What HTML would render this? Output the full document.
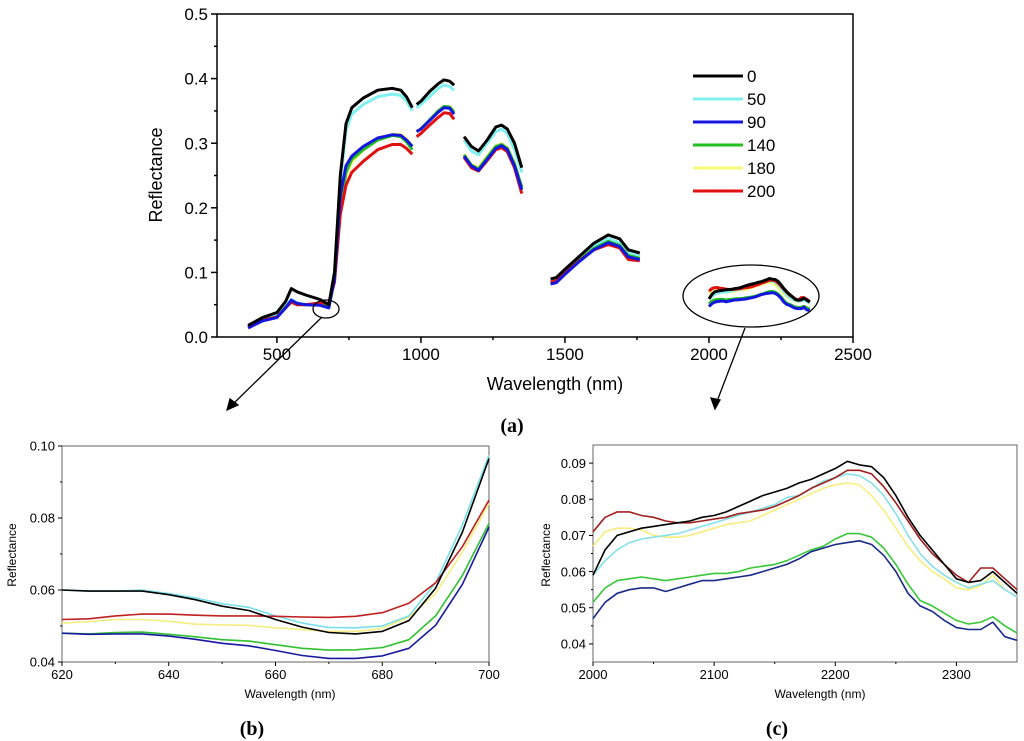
<!DOCTYPE html>
<html><head><meta charset="utf-8"><style>
body{margin:0;background:#fff;}
svg{display:block;font-family:"Liberation Sans",Arial,sans-serif;}
</style></head><body>
<svg id="fig" width="1024" height="741">
<g id="main"></g>
<g id="pb"></g>
<g id="pc"></g>
<g fill="none" stroke="#000" stroke-width="1.3">
<ellipse cx="326" cy="309" rx="13" ry="9"/>
<ellipse cx="751" cy="296" rx="68" ry="31"/>
<line x1="322" y1="317" x2="231" y2="406"/>
<line x1="745" y1="328" x2="716" y2="404"/>
<polygon fill="#000" points="227,410 230,399 238,405"/>
<polygon fill="#000" points="715,409 711,398 720,400"/>
</g>
<text x="512" y="432" font-family="Liberation Serif" font-weight="bold" font-size="20" text-anchor="middle">(a)</text>
<text x="252" y="735" font-family="Liberation Serif" font-weight="bold" font-size="20" text-anchor="middle">(b)</text>
<text x="777" y="735" font-family="Liberation Serif" font-weight="bold" font-size="20" text-anchor="middle">(c)</text>
</svg>
<script>
// ---- main chart data ----
const seriesNames = ["0","50","90","140","180","200"];
const seg1X = [400,450,500,530,550,570,600,650,680,700,720,740,760,800,850,900,930,950,970];
const seg1Black = [.018,.03,.038,.055,.075,.07,.065,.058,.05,.1,.25,.33,.355,.37,.382,.385,.382,.372,.355];
const seg1Cyan = [.016,.028,.034,.048,.058,.053,.05,.05,.048,.1,.24,.32,.345,.36,.372,.376,.374,.365,.35];
const seg1Blue = [.014,.025,.03,.045,.057,.052,.05,.049,.045,.09,.22,.265,.28,.295,.308,.313,.312,.305,.295];
const seg1Green = [.015,.026,.031,.046,.055,.051,.05,.05,.047,.09,.2,.255,.275,.29,.305,.312,.31,.302,.29];
const seg1Yellow = [.016,.027,.032,.047,.054,.05,.05,.052,.049,.09,.2,.25,.27,.29,.305,.314,.314,.307,.295];
const seg1Red = [.015,.026,.031,.045,.054,.05,.05,.053,.052,.085,.19,.235,.255,.272,.29,.298,.298,.292,.283];
const seg2X = [985,1000,1030,1060,1080,1100,1115];
const seg2Black = [.36,.365,.38,.392,.398,.396,.39];
const seg2Cyan = [.355,.36,.372,.385,.39,.388,.382];
const seg2Blue = [.318,.322,.335,.348,.355,.354,.345];
const seg2Green = [.318,.322,.336,.35,.357,.356,.348];
const seg2Yellow = [.318,.322,.336,.35,.357,.356,.35];
const seg2Red = [.31,.315,.328,.34,.347,.346,.337];
const seg3X = [1150,1175,1200,1230,1260,1280,1300,1325,1350];
const seg3Black = [.31,.295,.288,.305,.325,.328,.322,.3,.262];
const seg3Cyan = [.305,.288,.282,.3,.318,.322,.315,.29,.255];
const seg3Blue = [.28,.265,.258,.275,.292,.296,.29,.265,.228];
const seg3Green = [.282,.266,.26,.278,.295,.298,.292,.268,.232];
const seg3Yellow = [.283,.267,.262,.28,.296,.299,.293,.27,.232];
const seg3Red = [.278,.262,.257,.273,.29,.293,.287,.262,.222];
const seg4X = [1450,1470,1500,1550,1600,1650,1690,1720,1760];
const seg4Black = [.09,.092,.105,.125,.145,.158,.152,.135,.13];
const seg4Cyan = [.088,.09,.102,.122,.14,.152,.146,.13,.125];
const seg4Blue = [.082,.084,.097,.117,.135,.146,.14,.124,.12];
const seg4Green = [.084,.086,.099,.119,.137,.148,.142,.126,.122];
const seg4Yellow = [.09,.09,.1,.12,.138,.149,.143,.126,.122];
const seg4Red = [.085,.087,.099,.118,.135,.143,.138,.12,.118];
// ---- panel c data (also seg5 of main) ----
const cX = [2000,2010,2020,2030,2040,2050,2060,2070,2080,2090,2100,2110,2120,2130,2140,2150,2160,2170,2180,2190,2200,2210,2220,2230,2240,2250,2260,2270,2280,2290,2300,2310,2320,2330,2340,2350];
const cBlack = [.059,.066,.07,.071,.072,.0725,.073,.0735,.074,.075,.0755,.0765,.078,.0795,.081,.082,.083,.0845,.0855,.087,.0885,.0905,.0895,.089,.086,.081,.075,.07,.066,.062,.058,.057,.0575,.06,.057,.054];
const cRed = [.071,.075,.0765,.0765,.0755,.075,.074,.0735,.0735,.074,.0745,.075,.076,.0765,.077,.078,.0795,.081,.083,.0845,.086,.088,.088,.087,.0835,.079,.074,.069,.065,.062,.059,.057,.061,.061,.058,.055];
const cCyan = [.059,.063,.066,.068,.069,.0695,.07,.0705,.0715,.0725,.0735,.0745,.0755,.0765,.0775,.0785,.0805,.081,.083,.085,.086,.087,.0865,.0845,.081,.076,.07,.065,.0615,.059,.057,.0555,.0565,.0575,.055,.053];
const cYellow = [.067,.071,.072,.072,.0715,.07,.0695,.0695,.07,.071,.072,.073,.0735,.074,.0755,.077,.0785,.08,.0815,.083,.084,.0845,.084,.081,.077,.072,.067,.063,.06,.058,.0555,.055,.056,.059,.055,.053];
const cGreen = [.0515,.0555,.0575,.058,.0585,.058,.0575,.058,.0585,.059,.0595,.0595,.06,.061,.0615,.062,.063,.0645,.066,.067,.069,.0705,.0705,.0695,.0665,.062,.0565,.052,.0505,.0485,.0465,.0455,.046,.0475,.045,.043];
const cBlue = [.047,.0515,.054,.055,.0555,.0555,.0545,.0555,.0565,.0575,.0575,.058,.0585,.059,.06,.061,.062,.0635,.0655,.0665,.0675,.068,.0685,.0675,.0645,.06,.054,.0505,.049,.0465,.0445,.044,.044,.046,.042,.041];
// ---- panel b data ----
const bX = [620,625,630,635,640,645,650,655,660,665,670,675,680,685,690,695,700];
const bBlack = [.060,.0597,.0597,.0597,.0587,.0573,.0555,.0543,.0518,.0497,.0482,.0478,.0485,.0515,.0605,.076,.0965];
const bCyan = [.060,.0597,.0597,.06,.059,.0578,.0562,.0552,.0528,.0508,.0496,.0495,.05,.0528,.062,.078,.0975];
const bRed = [.0518,.052,.0528,.0533,.0533,.053,.0528,.0528,.0527,.0525,.0524,.0527,.0537,.0563,.062,.072,.085];
const bYellow = [.0508,.0512,.0518,.0518,.0513,.0505,.0503,.0502,.0495,.049,.0485,.0485,.0493,.0525,.059,.0705,.084];
const bGreen = [.048,.0478,.0482,.0483,.0477,.047,.0462,.0458,.0448,.0438,.0433,.0434,.044,.0462,.0528,.064,.0785];
const bBlue = [.048,.0477,.0478,.0478,.0472,.0463,.0452,.0445,.0432,.0418,.041,.041,.0417,.0438,.0502,.0615,.0775];
const mainXTicks = [500,1000,1500,2000,2500];
const mainYTicks = [0,0.1,0.2,0.3,0.4,0.5];
const bXTicks = [620,640,660,680,700];
const bYTicks = [0.04,0.06,0.08,0.10];
const cXTicks = [2000,2100,2200,2300];
const cYTicks = [0.04,0.05,0.06,0.07,0.08,0.09];

const NS="http://www.w3.org/2000/svg";
function mk(parent,tag,attrs,text){const e=document.createElementNS(NS,tag);for(const k in attrs)e.setAttribute(k,attrs[k]);if(text!==undefined)e.textContent=text;parent.appendChild(e);return e;}
function scale(d0,d1,r0,r1){return v=>r0+(v-d0)*(r1-r0)/(d1-d0);}

function axes(g,o){
  const X=scale(o.xmin,o.xmax,o.L,o.R),Y=scale(o.ymin,o.ymax,o.B,o.T);
  const box=mk(g,'rect',{x:o.L,y:o.T,width:o.R-o.L,height:o.B-o.T,fill:'none',stroke:o.frame,'stroke-width':o.sw});
  
  
  o.xt.forEach(v=>{
    const t=mk(g,'line',{x1:X(v),x2:X(v),y1:o.B,y2:o.B+o.tick,stroke:'#000','stroke-width':o.sw});
    
    
    const l=mk(g,'text',{x:X(v),y:o.B+o.tick+o.fs,'font-size':o.fs,'text-anchor':'middle'},String(v));
    
    
  });
  o.xt.slice(0,-1).forEach((v,i)=>{const m=(v+o.xt[i+1])/2;if(m<o.xmax)mk(g,'line',{x1:X(m),x2:X(m),y1:o.B,y2:o.B+o.tick/2,stroke:'#000','stroke-width':o.sw});});
  if(o.xmin<o.xt[0]-(o.xt[1]-o.xt[0])/2)mk(g,'line',{x1:X(o.xt[0]-(o.xt[1]-o.xt[0])/2),x2:X(o.xt[0]-(o.xt[1]-o.xt[0])/2),y1:o.B,y2:o.B+o.tick/2,stroke:'#000'});
  const lastM=o.xt[o.xt.length-1]+(o.xt[1]-o.xt[0])/2; if(lastM<o.xmax)mk(g,'line',{x1:X(lastM),x2:X(lastM),y1:o.B,y2:o.B+o.tick/2,stroke:'#000'});
  o.yt.forEach((v,i)=>{
    const t=mk(g,'line',{x1:o.L-o.tick,x2:o.L,y1:Y(v),y2:Y(v),stroke:'#000','stroke-width':o.sw});
    
    
    const l=mk(g,'text',{x:o.L-o.tick-3,y:Y(v)+o.fs*0.36,'font-size':o.fs,'text-anchor':'end'},v.toFixed(o.dec));
    
    
    if(i<o.yt.length-1){const m=(v+o.yt[i+1])/2;mk(g,'line',{x1:o.L-o.tick/2,x2:o.L,y1:Y(m),y2:Y(m),stroke:'#000','stroke-width':o.sw});}
  });
  const yl=o.yt[o.yt.length-1]+(o.yt[1]-o.yt[0])/2; if(yl<o.ymax)mk(g,'line',{x1:o.L-o.tick/2,x2:o.L,y1:Y(yl),y2:Y(yl),stroke:'#000'});
  const yl0=o.yt[0]-(o.yt[1]-o.yt[0])/2; if(yl0>o.ymin)mk(g,'line',{x1:o.L-o.tick/2,x2:o.L,y1:Y(yl0),y2:Y(yl0),stroke:'#000'});
  const xt=mk(g,'text',{x:o.xlx,y:o.xly,'font-size':o.lfs,'text-anchor':'middle'},'Wavelength (nm)');
  
  
  const yt=mk(g,'text',{x:0,y:0,'font-size':o.lfs,'text-anchor':'middle',transform:`translate(${o.ylx},${o.yly}) rotate(-90)`},'Reflectance');
  
  
  return {X,Y};
}
function line(g,X,Y,xs,ys,color,w,name){
  const d=xs.map((x,i)=>(i?'L':'M')+X(x).toFixed(1)+','+Y(ys[i]).toFixed(1)).join('');
  const p=mk(g,'path',{d:d,fill:'none',stroke:color,'stroke-width':w,'stroke-linejoin':'round'});
  
  
}

// main
const gm=document.getElementById('main');
const m=axes(gm,{xmin:292,xmax:2500,ymin:0,ymax:0.5,L:217,R:853,T:14,B:337,xt:mainXTicks,yt:mainYTicks,tick:6,fs:17,lfs:18,dec:1,sw:1.5,frame:'#000',xlx:555,xly:390,ylx:162,yly:175});
const mainColors=["#000000","#80f0f0","#1515e0","#22c022","#f8f878","#e01010"];
const segs=[[seg1X,[seg1Black,seg1Cyan,seg1Blue,seg1Green,seg1Yellow,seg1Red]],[seg2X,[seg2Black,seg2Cyan,seg2Blue,seg2Green,seg2Yellow,seg2Red]],[seg3X,[seg3Black,seg3Cyan,seg3Blue,seg3Green,seg3Yellow,seg3Red]],[seg4X,[seg4Black,seg4Cyan,seg4Blue,seg4Green,seg4Yellow,seg4Red]],[cX,[cBlack,cCyan,cBlue,cGreen,cYellow,cRed]]];
const order=[4,1,3,5,2,0];
segs.forEach((s,si)=>order.forEach(k=>line(gm,m.X,m.Y,s[0],s[1][k],mainColors[k],3,'series-'+seriesNames[k]+'-seg'+(si+1))));
seriesNames.forEach((n,i)=>{
  const y=76+i*23;
  const l=mk(gm,'line',{x1:693,x2:743,y1:y,y2:y,stroke:mainColors[i],'stroke-width':3});
  
  
  const t=mk(gm,'text',{x:747,y:y+6,'font-size':17},n);
  
  
});

// panel b
const gb=document.getElementById('pb');
const b=axes(gb,{xmin:620,xmax:700,ymin:0.04,ymax:0.10,L:62,R:489,T:446,B:662,xt:bXTicks,yt:bYTicks,tick:4,fs:13,lfs:12,dec:2,sw:1,frame:'#666',xlx:290,xly:698,ylx:16,yly:555});
[[bYellow,'#f6ee80','yellow'],[bCyan,'#78e0e8','cyan'],[bRed,'#c02020','red'],[bGreen,'#30c030','green'],[bBlue,'#1818a0','blue'],[bBlack,'#000','black']].forEach(s=>line(gb,b.X,b.Y,bX,s[0],s[1],1.6,'panel-b-'+s[2]));

// panel c
const gc=document.getElementById('pc');
const c=axes(gc,{xmin:2000,xmax:2350,ymin:0.035,ymax:0.095,L:593,R:1017,T:445,B:662,xt:cXTicks,yt:cYTicks,tick:4,fs:13,lfs:12,dec:2,sw:1,frame:'#666',xlx:820,xly:698,ylx:550,yly:555});
[[cYellow,'#f6ee80','yellow'],[cCyan,'#88e0e8','cyan'],[cGreen,'#38c838','green'],[cBlue,'#1a2a8a','blue'],[cRed,'#a02020','red'],[cBlack,'#000','black']].forEach(s=>line(gc,c.X,c.Y,cX,s[0],s[1],1.6,'panel-c-'+s[2]));
</script>
</body></html>
